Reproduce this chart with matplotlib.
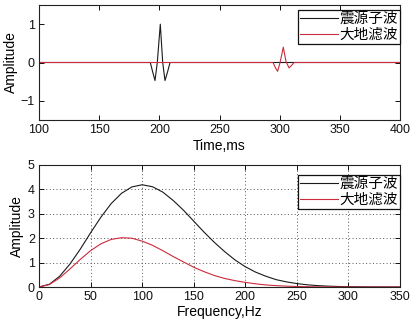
import matplotlib
matplotlib.use("Agg")
import matplotlib.pyplot as plt

plt.rcParams['font.family'] = ['Liberation Sans', 'Noto Sans CJK SC', 'DejaVu Sans']

# ---- data: time domain (ms, amplitude) ----
src_t = [100, 192.5, 194.5, 196.4, 198.3, 200.8, 202.8, 204.7, 206.8, 208.9, 400]
src_a = [0, 0, -0.25, -0.47, 0.0, 1.0, 0.0, -0.47, -0.25, 0, 0]
flt_t = [100, 294.5, 296.5, 298.3, 300.5, 303.0, 305.3, 307.8, 309.8, 312.0, 400]
flt_a = [0, 0, -0.14, -0.23, 0.02, 0.40, 0.02, -0.14, -0.08, 0, 0]

# ---- data: frequency domain (Hz, amplitude) ----
freq = [0, 10, 20, 30, 40, 50, 60, 70, 80, 90, 100, 110, 120, 130, 140, 150,
        160, 170, 180, 190, 200, 210, 220, 230, 240, 250, 260, 270, 280, 290,
        300, 320, 350]
src_spec = [0, 0.11, 0.44, 0.94, 1.55, 2.22, 2.86, 3.42, 3.84, 4.10, 4.19,
            4.11, 3.89, 3.55, 3.15, 2.70, 2.25, 1.83, 1.45, 1.11, 0.83, 0.61,
            0.44, 0.30, 0.21, 0.14, 0.09, 0.057, 0.035, 0.021, 0.013, 0.004, 0]
flt_spec = [0, 0.10, 0.37, 0.74, 1.13, 1.49, 1.77, 1.95, 2.02, 2.00, 1.88,
            1.71, 1.49, 1.25, 1.03, 0.81, 0.63, 0.47, 0.35, 0.26, 0.19, 0.13,
            0.085, 0.055, 0.035, 0.021, 0.012, 0.007, 0.004, 0.002, 0.001, 0, 0]

labels = ['震源子波', '大地滤波']
time_ticks = [100, 150, 200, 250, 300, 350, 400]
freq_ticks = [0, 50, 100, 150, 200, 250, 300, 350]

BLACK = '#1a1a1a'
RED = '#cc2b3c'

fig = plt.figure(figsize=(4.11, 3.21), dpi=100)
W, H = 411, 321
ax1 = fig.add_axes([39 / W, 1 - 120 / H, 361 / W, 115 / H])
ax2 = fig.add_axes([39 / W, 1 - 287 / H, 361 / W, 122 / H])

ax1.plot(src_t, src_a, color=BLACK, lw=0.8, label=labels[0])
ax1.plot(flt_t, flt_a, color=RED, lw=0.8, label=labels[1])
ax1.set_xlim(100, 400)
ax1.set_ylim(-1.5, 1.5)
ax1.set_xticks(time_ticks)
ax1.set_yticks([-1, 0, 1])
ax1.set_xlabel('Time,ms', fontsize=10, labelpad=2)
ax1.set_ylabel('Amplitude', fontsize=10, labelpad=2)

ax2.plot(freq, src_spec, color=BLACK, lw=0.8, label=labels[0])
ax2.plot(freq, flt_spec, color=RED, lw=0.8, label=labels[1])
ax2.set_xlim(0, 350)
ax2.set_ylim(0, 5)
ax2.set_xticks(freq_ticks)
ax2.set_yticks([0, 1, 2, 3, 4, 5])
ax2.grid(True, linestyle=(0, (1, 2.5)), color='#555555', lw=0.7)
ax2.set_xlabel('Frequency,Hz', fontsize=10, labelpad=1)
ax2.set_ylabel('Amplitude', fontsize=10, labelpad=3)

for ax, gap, h in ((ax1, 5, 115), (ax2, 10, 122)):
    ax.tick_params(direction='in', top=True, right=True, length=3.5,
                   width=0.7, labelsize=9, pad=3, colors='#111111')
    for s in ax.spines.values():
        s.set_linewidth(0.8)
        s.set_color('#222222')
    leg = ax.legend(loc='upper right', bbox_to_anchor=(1.0, 1 - gap / h),
                    borderaxespad=0, fancybox=False, framealpha=1,
                    edgecolor='#111111', handlelength=2.6,
                    handletextpad=0.1, borderpad=0.15, labelspacing=0.1,
                    prop={'family': ['Noto Sans CJK SC', 'DejaVu Sans'],
                          'size': 10.5})
    leg.get_frame().set_linewidth(0.9)

fig.savefig('out.png', dpi=100)
